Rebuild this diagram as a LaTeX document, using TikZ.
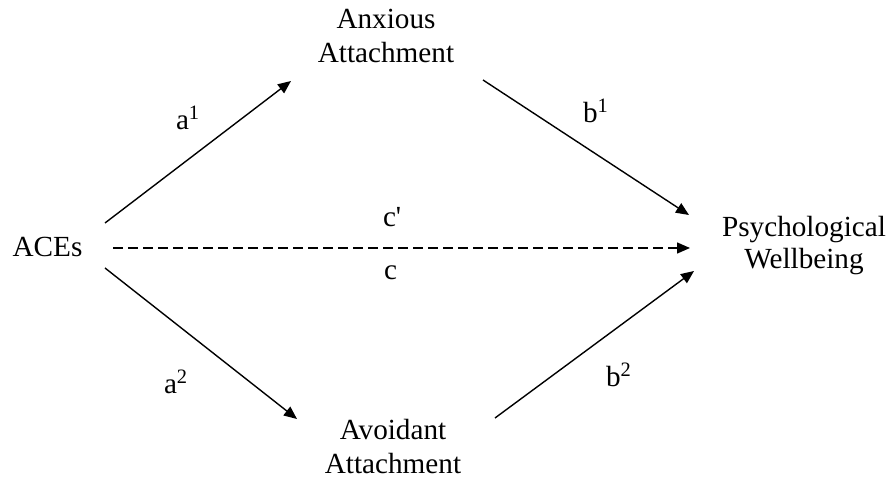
\documentclass[tikz,border=0pt]{standalone}
\usepackage{fontspec}
\setmainfont{Liberation Serif}[Ligatures=TeXOff]
\usetikzlibrary{arrows.meta}
\begin{document}
\begin{tikzpicture}[x=0.5pt,y=-0.5pt,
  every node/.style={inner sep=0pt, outer sep=0pt},
  lbl/.style={font=\fontsize{14.6pt}{17pt}\selectfont, align=center},
  psy/.style={font=\fontsize{14.6pt}{16pt}\selectfont, align=center},
  coef/.style={font=\fontsize{14.6pt}{17pt}\selectfont, anchor=base west},
  conn/.style={line width=0.7pt, -{Triangle[length=6.5pt,width=5.5pt]}},
  dconn/.style={conn, dash pattern=on 5pt off 2.5pt}]
\useasboundingbox (0,0) rectangle (894,480);
\fill[white] (0,0) rectangle (894,480);

% nodes
\node[lbl] (aces) at (47.5,247) {ACEs};
\node[lbl] (anx) at (386,36) {Anxious\\Attachment};
\node[lbl] (avo) at (393,447) {Avoidant\\Attachment};
\node[psy] (psy) at (804,246) {Psychological\\Wellbeing};

% connector end points
\coordinate (a1s) at (105,223);
\coordinate (a1e) at (291,81);
\coordinate (b1s) at (483,80);
\coordinate (b1e) at (689,215);
\coordinate (cs) at (113,248);
\coordinate (ce) at (690,248);
\coordinate (a2s) at (105,268);
\coordinate (a2e) at (297,419);
\coordinate (b2s) at (495,418);
\coordinate (b2e) at (694,271);

\draw[conn] (a1s) -- (a1e);
\draw[conn] (b1s) -- (b1e);
\draw[dconn] (cs) -- (ce);
\draw[conn] (a2s) -- (a2e);
\draw[conn] (b2s) -- (b2e);

% coefficient labels
\node[coef] (la1) at (176,130) {a\textsuperscript{1}};
\node[coef] (lb1) at (583,123) {b\textsuperscript{1}};
\node[coef] (lcp) at (383,227) {c'};
\node[coef] (lc) at (384,280) {c};
\node[coef] (la2) at (164,394) {a\textsuperscript{2}};
\node[coef] (lb2) at (606,387) {b\textsuperscript{2}};
\end{tikzpicture}
\end{document}
